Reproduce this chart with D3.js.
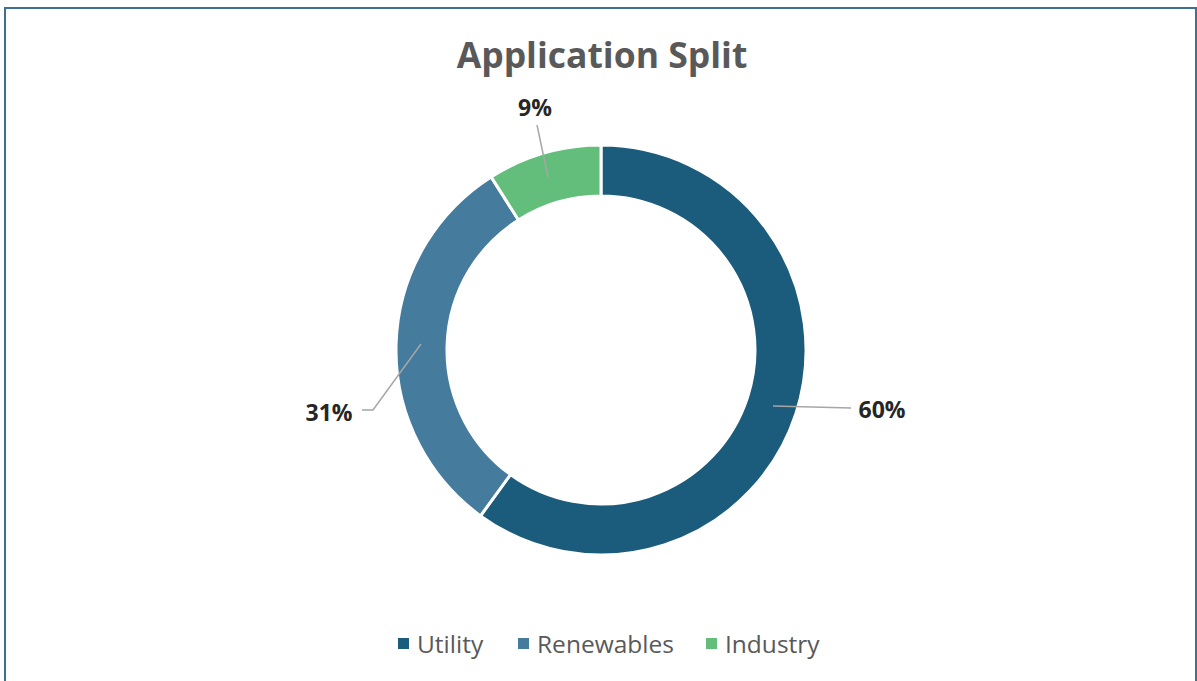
<!DOCTYPE html>
<html>
<head>
<meta charset="utf-8">
<script src="https://cdn.jsdelivr.net/npm/d3@7"></script>
<style>
  body { margin: 0; background: #fff; }
  svg { display: block; }
</style>
</head>
<body>
<div id="chart-area"></div>
<script>
// data
var categories = ["Utility", "Renewables", "Industry"];
var shares = [60, 31, 9];
var colorsList = ["#1b5b7c", "#457b9d", "#63be7b"];

var width = 1197;
var height = 681;
var font = "'Open Sans', 'Noto Sans', sans-serif";

var svg = d3.select("#chart-area").append("svg")
    .attr("width", width)
    .attr("height", height);

// chart frame
svg.append("rect")
    .attr("x", 5)
    .attr("y", 8)
    .attr("width", 1191)
    .attr("height", 700)
    .attr("fill", "none")
    .attr("stroke", "#3d7192")
    .attr("stroke-width", 2);

svg.append("text")
    .attr("x", 602)
    .attr("y", 68)
    .attr("text-anchor", "middle")
    .attr("font-family", font)
    .attr("font-size", "35.5px")
    .attr("font-weight", "bold")
    .style("fill", "#595959")
    .text("Application Split");

var cx = 601, cy = 350;
var outerR = 205, innerR = 154;

var data = categories.map((c, i) => {
    return { name: c, value: shares[i] };
});

var color = d3.scaleOrdinal()
    .domain(categories)
    .range(colorsList);

var pie = d3.pie()
    .sort(null)
    .value((d) => { return d.value; });

var arc = d3.arc()
    .innerRadius(innerR)
    .outerRadius(outerR);

var g = svg.append("g")
    .attr("transform", "translate(" + cx + ", " + cy + ")");

var arcs = pie(data);

g.selectAll("path")
    .data(arcs)
    .enter()
    .append("path")
    .attr("d", arc)
    .attr("fill", (d) => { return color(d.data.name); })
    .attr("stroke", "#fff")
    .attr("stroke-width", 3);

// label positions, offsets from centre (as in the picture)
var labelPos = {
    "Utility": { text: [281, 62], line: [[172, 56], [250, 58]] },
    "Renewables": { text: [-272, 65], line: [[-180, -6], [-228, 60], [-239, 60]] },
    "Industry": { text: [-66, -240], line: [[-53, -173], [-64, -225]] }
};

arcs.forEach((d) => {
    var p = labelPos[d.data.name];
    g.append("path")
        .attr("d", d3.line()(p.line))
        .attr("fill", "none")
        .attr("stroke", "#a6a6a6")
        .attr("stroke-width", 1.5);
    g.append("text")
        .attr("x", p.text[0])
        .attr("y", p.text[1])
        .attr("text-anchor", "middle")
        .attr("dominant-baseline", "middle")
        .attr("font-family", font)
        .attr("font-size", "23px")
        .attr("font-weight", "bold")
        .style("fill", "#262626")
        .text(d3.format(".0%")(d.data.value / 100));
});

// legend
var legendX = [398, 518, 706];
var legend = svg.append("g");
categories.forEach((c, i) => {
    legend.append("rect")
        .attr("x", legendX[i])
        .attr("y", 638)
        .attr("width", 11)
        .attr("height", 11)
        .attr("fill", color(c));
    legend.append("text")
        .attr("x", legendX[i] + 19)
        .attr("y", 653)
        .attr("font-family", font)
        .attr("font-size", "24.5px")
        .style("fill", "#595959")
        .text(c);
});
</script>
</body>
</html>
